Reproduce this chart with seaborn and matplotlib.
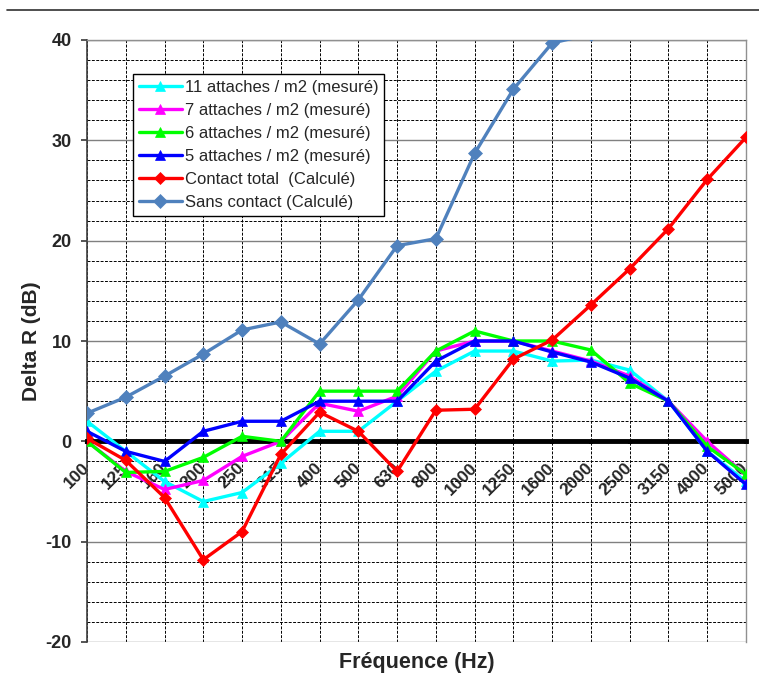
import numpy as np
import pandas as pd
import matplotlib
matplotlib.use("Agg")
import matplotlib.pyplot as plt
import seaborn as sns
from matplotlib.ticker import MultipleLocator
from matplotlib.lines import Line2D

# ---- data -------------------------------------------------------------
freqs = ["100", "125", "160", "200", "250", "315", "400", "500", "630",
         "800", "1000", "1250", "1600", "2000", "2500", "3150", "4000", "5000"]

att11 = [2, -1, -4, -6, -5.1, -2.2, 1, 1, 4, 7, 9, 9, 8, 8.1, 7.1, 4, -1, -4]
att7 = [0, -3, -4.8, -3.9, -1.5, 0, 3.8, 3, 4.5, 9, 10, 10, 9, 8, 6.5, 4, 0, -3.4]
att6 = [0, -3.1, -3, -1.6, 0.5, 0, 5, 5, 5, 9, 11, 10, 10, 9.1, 5.8, 4, -0.5, -3.3]
att5 = [1, -1, -2, 1, 2, 2, 4, 4, 4, 8, 10, 10, 8.9, 7.9, 6.3, 4, -1, -4.3]
contact_total = [0.3, -1.9, -5.6, -11.8, -9, -1.3, 2.9, 1, -3, 3.1, 3.2,
                 8.2, 10.1, 13.6, 17.2, 21.2, 26.1, 30.3]
sans_contact = [2.8, 4.4, 6.5, 8.7, 11.1, 11.9, 9.7, 14.1, 19.5, 20.2, 28.7,
                35.1, 39.7, 40.6, np.nan, np.nan, np.nan, np.nan]

series_names = ["11 attaches / m2 (mesuré)", "7 attaches / m2 (mesuré)",
                "6 attaches / m2 (mesuré)", "5 attaches / m2 (mesuré)",
                "Contact total  (Calculé)", "Sans contact (Calculé)"]
series_values = [att11, att7, att6, att5, contact_total, sans_contact]
series_colors = ["#00FFFF", "#FF00FF", "#00FF00", "#0000FF", "#FF0000", "#4F81BD"]
series_markers = ["^", "^", "^", "^", "D", "D"]
series_msizes = [7.5, 7.5, 7.5, 7.5, 6, 7]

# ---- style ------------------------------------------------------------
sns.set_theme(style="white")
plt.rcParams['font.family'] = ['Liberation Sans', 'DejaVu Sans']
plt.rcParams['axes.unicode_minus'] = False

fig = plt.figure(figsize=(7.59, 6.84), dpi=100)
ax = fig.add_axes([87 / 759, 42 / 684, 659 / 759, 602 / 684])

for name, vals, col, mk, ms in zip(series_names, series_values, series_colors,
                                   series_markers, series_msizes):
    df = pd.DataFrame({"freq": freqs, "val": vals})
    sns.lineplot(data=df, x="freq", y="val", ax=ax, color=col, marker=mk,
                 markersize=ms, markeredgecolor=col, markeredgewidth=0.5,
                 linewidth=2.4, label=name, sort=False, estimator=None,
                 zorder=3)

ax.set_xlim(0, len(freqs) - 1)
ax.set_ylim(-20, 40)
ax.set_xticks(range(len(freqs)))
ax.set_xticklabels(freqs)

ax.yaxis.set_major_locator(MultipleLocator(10))
ax.yaxis.set_minor_locator(MultipleLocator(2))
ax.set_axisbelow(True)
ax.grid(which='major', axis='y', color='#808080', lw=1.0, ls='-')
ax.grid(which='minor', axis='y', color='black', lw=0.7, ls=(0, (3, 1.5)))
ax.grid(which='major', axis='x', color='black', lw=0.7, ls=(0, (3, 1.5)))

# spines
ax.spines['bottom'].set_position(('data', 0))
ax.spines['bottom'].set_linewidth(3.5)
ax.spines['bottom'].set_color('black')
ax.spines['left'].set_color('#404040')
ax.spines['left'].set_linewidth(1.2)
for s in ['top', 'right']:
    ax.spines[s].set_color('#909090')
    ax.spines[s].set_linewidth(1.0)

ax.tick_params(axis='y', which='major', direction='out', length=4,
               color='#404040', labelsize=13, pad=7, left=True)
ax.tick_params(axis='y', which='minor', length=0)
ax.tick_params(axis='x', which='major', direction='out', length=2.5, width=3,
               color='black', labelsize=12.5, pad=15, bottom=True)
for lab in ax.get_yticklabels():
    lab.set_fontweight('bold')
for lab in ax.get_xticklabels():
    lab.set_fontweight('bold')
    lab.set_rotation(45)
    lab.set_ha('right')
    lab.set_va('center')
    lab.set_rotation_mode('anchor')

ax.set_ylabel('Delta R (dB)', fontsize=15, fontweight='bold')
ax.yaxis.set_label_coords(-0.07, 0.5)
ax.set_xlabel('Fréquence (Hz)', fontsize=15.5, fontweight='bold')
ax.xaxis.set_label_coords(0.5, -0.016)

leg = ax.legend(loc='upper left', bbox_to_anchor=(0.0698, 0.9435),
                borderaxespad=0, frameon=True, fancybox=False, framealpha=1,
                edgecolor='black', fontsize=12, handlelength=2.6,
                handletextpad=0.15, labelspacing=0.48, borderpad=0.35,
                numpoints=1)
leg.get_frame().set_linewidth(1.0)
leg.set_zorder(5)

# separator line at top of the page
fig.add_artist(Line2D([7 / 759, 1.0], [1 - 10 / 684, 1 - 10 / 684],
                      color='#303030', lw=1.2))

fig.savefig("out.png", dpi=100)
